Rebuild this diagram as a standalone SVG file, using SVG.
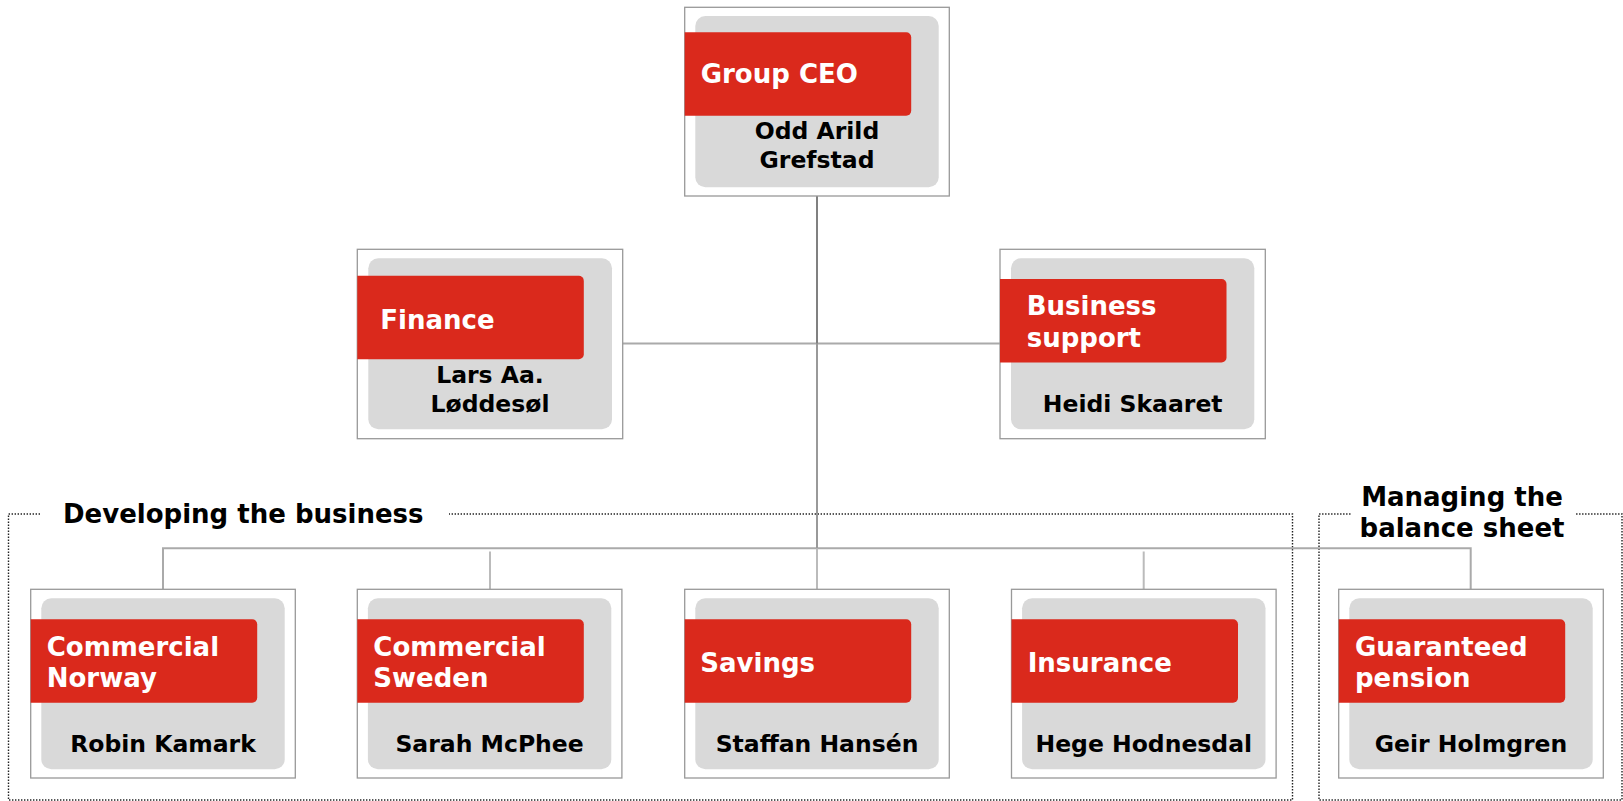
<svg xmlns="http://www.w3.org/2000/svg" width="1623" height="801" viewBox="0 0 1623 801">
  <style>
    .frame { fill: #ffffff; stroke: #999999; stroke-width: 1.3; }
    .card { fill: #d9d9d9; }
    .tab { fill: #da291c; }
    .title { font-family: "DejaVu Sans", Verdana, sans-serif; font-weight: bold; font-size: 26px; fill: #ffffff; }
    .name { font-family: "DejaVu Sans", Verdana, sans-serif; font-weight: bold; font-size: 23.5px; fill: #000000; text-anchor: middle; }
    .group { font-family: "DejaVu Sans", Verdana, sans-serif; font-weight: bold; font-size: 26px; fill: #000000; }
    .zone { fill: none; stroke: #222222; stroke-width: 1.4; stroke-dasharray: 1.4 1.6; }
    .line { fill: none; stroke-width: 2; }
  </style>
  <defs>
    <!-- red title tab, rounded on the right side only -->
    <path id="tab" d="M0,0 H221.5 A5,5 0 0 1 226.5,5 V78.5 A5,5 0 0 1 221.5,83.5 H0 Z"/>
  </defs>

  <!-- dotted zones -->
  <g id="zones">
    <path class="zone" d="M40,514 H8.5 V800 H1292.5 V514 H449"/>
    <path class="zone" d="M1350.5,514 H1319 V800 H1622 V514 H1576"/>
    <text class="group" x="63" y="523">Developing the business</text>
    <text class="group" x="1462" y="506" text-anchor="middle">Managing the</text>
    <text class="group" x="1462" y="537" text-anchor="middle">balance sheet</text>
  </g>

  <!-- connectors -->
  <g id="connectors">
    <path class="line" stroke="#aaaaaa" d="M622,343.5 H1000"/>
    <path class="line" stroke="#aaaaaa" d="M163,589 V548.3 H1470.7 V589"/>
    <path class="line" stroke="#bbbbbb" d="M490,551.5 V589"/>
    <path class="line" stroke="#bbbbbb" d="M1143.7,551.5 V589"/>
    <path class="line" stroke="#bbbbbb" d="M817,548 V589"/>
    <path class="line" stroke="#999999" d="M817,343.5 V548.3"/>
    <path class="line" stroke="#808080" d="M817,196 V343.5"/>
  </g>

  <!-- top level -->
  <g id="node-ceo">
    <rect class="frame" x="684.7" y="7.3" width="264.6" height="188.7"/>
    <rect class="card" x="695.3" y="16" width="243.4" height="171.3" rx="10"/>
    <use href="#tab" class="tab" x="684.7" y="32.3"/>
    <text class="title" x="700.7" y="83.3">Group CEO</text>
    <text class="name" x="817" y="139.3">Odd Arild</text>
    <text class="name" x="817" y="168.3">Grefstad</text>
  </g>

  <!-- staff functions -->
  <g id="node-finance">
    <rect class="frame" x="357.3" y="249.3" width="265.4" height="189.4"/>
    <rect class="card" x="368.3" y="258.3" width="243.7" height="171" rx="10"/>
    <use href="#tab" class="tab" x="357.3" y="275.7"/>
    <text class="title" x="380.3" y="329.3">Finance</text>
    <text class="name" x="490" y="382.7">Lars Aa.</text>
    <text class="name" x="490" y="411.7">Løddesøl</text>
  </g>

  <g id="node-business-support">
    <rect class="frame" x="1000" y="249.3" width="265.3" height="189.4"/>
    <rect class="card" x="1011" y="258.3" width="243.3" height="171" rx="10"/>
    <use href="#tab" class="tab" x="1000" y="279"/>
    <text class="title" x="1026.7" y="315">Business</text>
    <text class="title" x="1026.7" y="346.5">support</text>
    <text class="name" x="1132.7" y="411.7">Heidi Skaaret</text>
  </g>

  <!-- business areas -->
  <g id="node-commercial-norway">
    <rect class="frame" x="30.7" y="589.3" width="264.6" height="188.7"/>
    <rect class="card" x="41.3" y="598.3" width="243.4" height="171" rx="10"/>
    <use href="#tab" class="tab" x="30.7" y="619.3"/>
    <text class="title" x="46.7" y="655.7">Commercial</text>
    <text class="title" x="46.7" y="686.7">Norway</text>
    <text class="name" x="163" y="751.7">Robin Kamark</text>
  </g>

  <g id="node-commercial-sweden">
    <rect class="frame" x="357.3" y="589.3" width="264.6" height="188.7"/>
    <rect class="card" x="367.9" y="598.3" width="243.4" height="171" rx="10"/>
    <use href="#tab" class="tab" x="357.3" y="619.3"/>
    <text class="title" x="373.3" y="655.7">Commercial</text>
    <text class="title" x="373.3" y="686.7">Sweden</text>
    <text class="name" x="489.6" y="751.7">Sarah McPhee</text>
  </g>

  <g id="node-savings">
    <rect class="frame" x="684.7" y="589.3" width="264.6" height="188.7"/>
    <rect class="card" x="695.3" y="598.3" width="243.4" height="171" rx="10"/>
    <use href="#tab" class="tab" x="684.7" y="619.3"/>
    <text class="title" x="700.3" y="671.7">Savings</text>
    <text class="name" x="817" y="751.7">Staffan Hansén</text>
  </g>

  <g id="node-insurance">
    <rect class="frame" x="1011.5" y="589.3" width="264.6" height="188.7"/>
    <rect class="card" x="1022.1" y="598.3" width="243.4" height="171" rx="10"/>
    <use href="#tab" class="tab" x="1011.5" y="619.3"/>
    <text class="title" x="1027.7" y="671.7">Insurance</text>
    <text class="name" x="1143.8" y="751.7">Hege Hodnesdal</text>
  </g>

  <g id="node-guaranteed-pension">
    <rect class="frame" x="1338.7" y="589.3" width="264.6" height="188.7"/>
    <rect class="card" x="1349.3" y="598.3" width="243.4" height="171" rx="10"/>
    <use href="#tab" class="tab" x="1338.7" y="619.3"/>
    <text class="title" x="1355" y="655.7">Guaranteed</text>
    <text class="title" x="1355" y="686.7">pension</text>
    <text class="name" x="1471" y="751.7">Geir Holmgren</text>
  </g>
</svg>
